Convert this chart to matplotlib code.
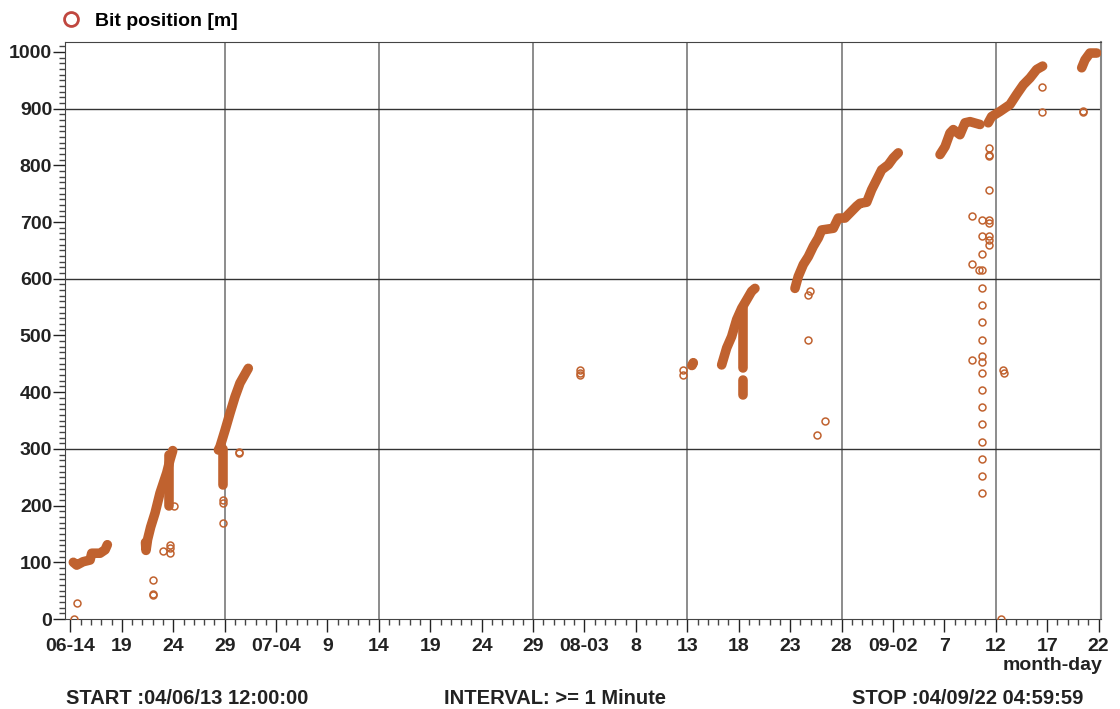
import pandas as pd
import matplotlib
matplotlib.use("Agg")
import matplotlib.pyplot as plt
import matplotlib.dates as mdates
from matplotlib.lines import Line2D
from matplotlib.ticker import MultipleLocator, FixedLocator

plt.rcParams['font.family'] = ['Liberation Sans', 'DejaVu Sans']
plt.rcParams['font.weight'] = 'bold'

# time axis: days counted from 2004-06-14 00:00
base = pd.Timestamp('2004-06-14')
x_start = pd.Timestamp('2004-06-13 12:00:00')
x_stop = pd.Timestamp('2004-09-22 04:59:59')

# dense drilling runs (continuous bands of samples)
run_a_days = [0.28, 0.61, 1.23, 1.91, 2.07, 2.88, 3.37, 3.59]
run_a_m = [100, 95, 101, 104, 116, 116, 122, 131]
run_b_days = [7.3, 7.35, 7.5, 7.8, 8.23, 8.71, 9.37, 9.69, 9.95]
run_b_m = [135, 121, 140, 162, 187, 222, 258, 281, 297]
run_b2_days = [9.62, 9.62]
run_b2_m = [290, 200]
run_c_days = [14.39, 14.55, 15.04, 15.52, 16.01, 16.49, 17.3]
run_c_m = [298, 304, 333, 363, 392, 416, 442]
run_c2_days = [14.81, 14.81]
run_c2_m = [300, 236]
run_e_days = [60.43, 60.58]
run_e_m = [447, 452]
run_f_days = [63.34, 63.83, 64.31, 64.8, 65.29, 65.78, 66.26, 66.58]
run_f_m = [448, 478, 498, 528, 548, 563, 578, 583]
run_f2_days = [65.44, 65.44]
run_f2_m = [548, 442]
run_f3_days = [65.44, 65.44]
run_f3_m = [422, 395]
run_g_days = [70.47, 70.79, 71.28, 71.77, 72.25, 72.74, 73.07, 74.2, 74.68, 75.33,
              75.82, 76.47, 76.8, 77.45, 77.93, 78.57, 78.9, 79.55, 80.03, 80.52]
run_g_m = [583, 604, 625, 639, 657, 672, 686, 689, 707, 707,
           716, 728, 733, 735, 757, 780, 792, 801, 813, 822]
run_h_days = [84.58, 85.07, 85.55, 85.87, 86.52, 87.01, 87.5, 88.47]
run_h_m = [819, 833, 857, 863, 854, 875, 877, 872]
run_i_days = [89.27, 89.6, 90.41, 91.38, 92.03, 92.68, 93.33, 93.98, 94.56]
run_i_m = [875, 886, 895, 907, 925, 942, 954, 969, 975]
run_j_days = [98.36, 98.68, 99.16, 99.82]
run_j_m = [972, 986, 998, 998]

runs = [(run_a_days, run_a_m), (run_b_days, run_b_m), (run_b2_days, run_b2_m),
        (run_c_days, run_c_m), (run_c2_days, run_c2_m), (run_e_days, run_e_m),
        (run_f_days, run_f_m), (run_f2_days, run_f2_m), (run_f3_days, run_f3_m),
        (run_g_days, run_g_m), (run_h_days, run_h_m), (run_i_days, run_i_m),
        (run_j_days, run_j_m)]

# single samples
single_days = [0.38, 0.67,
               8.06, 8.06, 8.06, 8.98, 9.69, 9.69, 9.69, 10.05,
               14.81, 14.81, 14.81, 16.43, 16.43,
               49.56, 49.56, 49.56,
               59.61, 59.61, 60.43, 60.58,
               71.93, 71.77, 71.77, 73.39, 72.58,
               88.69, 88.69, 88.69, 88.69, 88.69, 88.69, 88.69, 88.69, 88.69,
               88.69, 88.69, 88.69, 88.69, 88.69, 88.69, 88.69, 88.69, 88.69,
               89.37, 89.37, 89.37, 89.37, 89.37, 89.37, 89.37, 89.37, 89.37,
               87.7, 87.7, 87.7, 88.4, 90.67, 90.8, 90.5,
               94.52, 94.52, 98.46, 98.46]
single_m = [0, 28,
            69, 44, 42, 120, 130, 125, 116, 200,
            210, 205, 170, 295, 292,
            439, 430, 434,
            439, 430, 448, 451,
            578, 572, 492, 349, 325,
            583, 553, 523, 492, 463, 454, 433, 403, 373,
            343, 313, 283, 253, 223, 704, 675, 644, 615,
            831, 818, 816, 757, 704, 698, 675, 668, 660,
            711, 626, 456, 615, 439, 433, 0,
            938, 894, 896, 894]

tick_labels = ['06-14', '19', '24', '29', '07-04', '9', '14', '19', '24', '29',
               '08-03', '8', '13', '18', '23', '28', '09-02', '7', '12', '17', '22']
grid_dates = pd.date_range('2004-06-29', periods=6, freq='15D')
grid_m = [300, 600, 900]

col = '#c0622f'
txt = '#222222'


def to_dates(days):
    return base + pd.to_timedelta(days, unit='D')


fig = plt.figure(figsize=(11.2, 7.09), dpi=100)
ax = fig.add_axes([65.3 / 1120, 1 - 619 / 709, (1100.7 - 65.3) / 1120, (619 - 41.7) / 709])

for d in grid_dates:
    ax.axvline(d, color='#6e6e6e', lw=1.1, zorder=1)
for m in grid_m:
    ax.axhline(m, color='#333333', lw=1.0, zorder=1)

for days, m in runs:
    ax.plot(to_dates(days), m, color=col, lw=6.9, solid_capstyle='round',
            solid_joinstyle='round', zorder=3)
ax.plot(to_dates(single_days), single_m, ls='none', marker='o', ms=5, mfc='none',
        mec=col, mew=1.1, zorder=4)

ax.set_xlim(x_start, x_stop)
ax.set_ylim(0, 1018)

major = mdates.date2num(pd.date_range('2004-06-14', '2004-09-22', freq='5D'))
ax.xaxis.set_major_locator(FixedLocator(major))
ax.xaxis.set_minor_locator(mdates.DayLocator())
ax.set_xticklabels(tick_labels)
ax.yaxis.set_major_locator(MultipleLocator(100))
ax.yaxis.set_minor_locator(MultipleLocator(10))

ax.tick_params(axis='x', which='major', length=9, width=1, pad=5, labelsize=14, colors=txt)
ax.tick_params(axis='x', which='minor', length=4.6, width=1, color='#444444')
ax.tick_params(axis='y', which='major', length=8.4, width=1, pad=1, labelsize=14, colors=txt)
ax.tick_params(axis='y', which='minor', length=4.1, width=1, color='#444444')
for lab in ax.get_xticklabels() + ax.get_yticklabels():
    lab.set_fontweight('bold')

for s in ['left', 'bottom', 'top']:
    ax.spines[s].set_color('#444444')
ax.spines['right'].set_color('#888888')
ax.spines['right'].set_linewidth(1.5)

handle = Line2D([], [], ls='none', marker='o', ms=10, mfc='none', mec='#c0473f', mew=2)
ax.legend([handle], ['Bit position [m]'], loc='center left', frameon=False,
          bbox_to_anchor=(-0.004, 1.036), borderaxespad=0, borderpad=0,
          handlelength=1.0, handletextpad=0.75,
          prop={'weight': 'bold', 'size': 14})

fig.text(1103 / 1120, 1 - 665 / 709, 'month-day', ha='right', va='center',
         fontsize=14, fontweight='bold', color=txt)
fig.text(66 / 1120, 1 - 698 / 709, 'START :04/06/13 12:00:00', ha='left', va='center',
         fontsize=14.5, fontweight='bold', color=txt)
fig.text(555 / 1120, 1 - 698 / 709, 'INTERVAL: >= 1 Minute', ha='center', va='center',
         fontsize=14.5, fontweight='bold', color=txt)
fig.text(1083 / 1120, 1 - 698 / 709, 'STOP :04/09/22 04:59:59', ha='right', va='center',
         fontsize=14.5, fontweight='bold', color=txt)

fig.savefig('out.png', dpi=100)
